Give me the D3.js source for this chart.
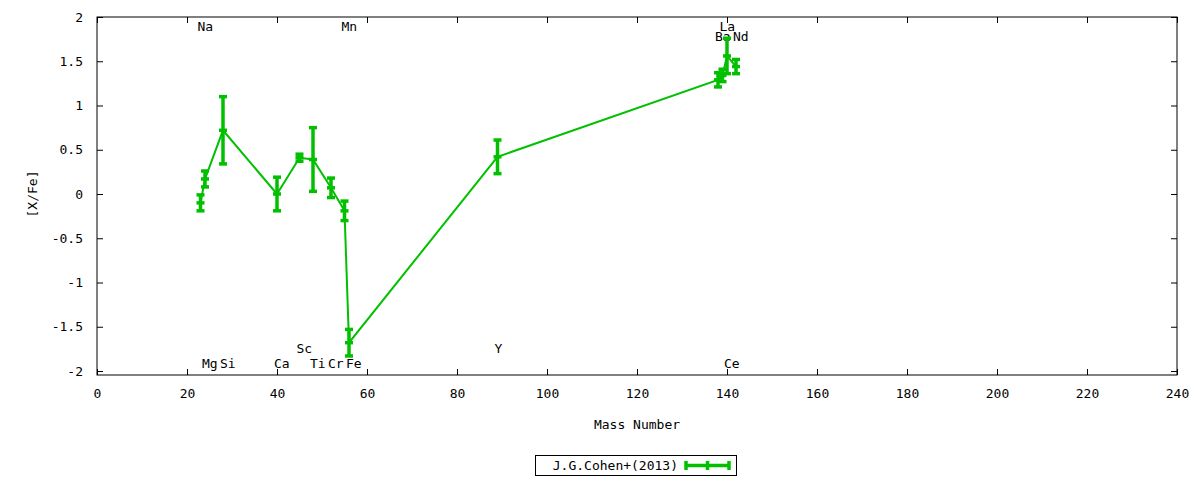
<!DOCTYPE html>
<html>
<head>
<meta charset="utf-8">
<script src="https://cdn.jsdelivr.net/npm/d3@7"></script>
<style>
  body { margin: 0; background: #fff; }
  text { font-family: "DejaVu Sans Mono", monospace; font-size: 13px; fill: #000; }
</style>
</head>
<body>
<div id="chart"></div>
<script>
// abundance data
const elements = ["Na", "Mg", "Si", "Ca", "Sc", "Ti", "Cr", "Mn", "Fe", "Y", "Ba", "La", "Ce", "Nd"]
const massNumbers = [23, 24, 28, 40, 45, 48, 52, 55, 56, 89, 138, 139, 140, 142]
const xFe = [-0.10, 0.17, 0.72, 0.0, 0.41, 0.39, 0.07, -0.19, -1.68, 0.42, 1.29, 1.34, 1.56, 1.44]
const xFeErr = [0.09, 0.09, 0.38, 0.19, 0.04, 0.36, 0.11, 0.11, 0.15, 0.19, 0.08, 0.07, 0.20, 0.08]
// where each element name is written
const labelY = [1.89, -1.91, -1.91, -1.91, -1.75, -1.91, -1.91, 1.89, -1.91, -1.75, 1.78, 1.89, -1.91, 1.78]

const xTicks = [0, 20, 40, 60, 80, 100, 120, 140, 160, 180, 200, 220, 240]
const yTicks = [-2, -1.5, -1, -0.5, 0, 0.5, 1, 1.5, 2]
const seriesName = "J.G.Cohen+(2013)"

const margin = {top: 17, right: 23, bottom: 105, left: 97},
    width = 1200 - margin.left - margin.right,
    height = 480 - margin.top - margin.bottom;

const color = "#00c000"

const svg = d3.select("#chart")
  .append("svg")
    .attr("width", 1200)
    .attr("height", 480)
  .append("g")
    .attr("transform", `translate(${margin.left}, ${margin.top})`);

const x = d3.scaleLinear().domain([0, 240]).range([0, width])
const y = d3.scaleLinear().domain([-2.045, 2]).range([height, 0])

const fmt = d => String(d)

// axes, ticks pointing inward, mirrored on top and right
svg.append("g")
   .attr("transform", `translate(0, ${height})`)
   .call(d3.axisBottom(x).tickValues(xTicks).tickSize(-6).tickPadding(14).tickFormat(fmt))
svg.append("g")
   .call(d3.axisTop(x).tickValues(xTicks).tickSize(-6).tickFormat(""))
svg.append("g")
   .call(d3.axisLeft(y).tickValues(yTicks).tickSize(-6).tickPadding(14).tickFormat(fmt))
svg.append("g")
   .attr("transform", `translate(${width}, 0)`)
   .call(d3.axisRight(y).tickValues(yTicks).tickSize(-6).tickFormat(""))

svg.selectAll(".domain").remove()
svg.selectAll(".tick line").attr("stroke", "#000")
svg.selectAll(".tick text").style("font-family", "DejaVu Sans Mono").style("font-size", "13px")

svg.append("rect")
   .attr("width", width)
   .attr("height", height)
   .attr("fill", "none")
   .attr("stroke", "#000")
   .attr("stroke-width", 1)

// axis titles
svg.append("text")
   .attr("x", x(120))
   .attr("y", 412)
   .attr("text-anchor", "middle")
   .text("Mass Number")
svg.append("text")
   .attr("transform", `translate(${-65}, ${y(0)}) rotate(-90)`)
   .attr("text-anchor", "middle")
   .attr("dy", "0.35em")
   .text("[X/Fe]")

// element names
svg.selectAll(".elabel")
   .data(elements)
   .enter()
   .append("text")
   .attr("class", "elabel")
   .attr("x", (d, i) => x(massNumbers[i]) - 3)
   .attr("y", (d, i) => y(labelY[i]))
   .attr("dy", "0.35em")
   .text(d => d)

const points = massNumbers.map((m, i) => ({mass: m, value: xFe[i], err: xFeErr[i]}))

// connecting line
svg.append("path")
   .datum(points)
   .attr("fill", "none")
   .attr("stroke", color)
   .attr("stroke-width", 2)
   .attr("d", d3.line().x(d => x(d.mass)).y(d => y(d.value)))

// error bars
const bars = svg.selectAll(".ebar")
  .data(points)
  .enter()
  .append("g")
  .attr("class", "ebar")
  .attr("stroke", color)
  .attr("stroke-width", 3.5)

bars.append("line")
  .attr("x1", d => x(d.mass)).attr("x2", d => x(d.mass))
  .attr("y1", d => y(d.value - d.err)).attr("y2", d => y(d.value + d.err))
bars.append("line")
  .attr("x1", d => x(d.mass) - 4).attr("x2", d => x(d.mass) + 4)
  .attr("y1", d => y(d.value - d.err)).attr("y2", d => y(d.value - d.err))
bars.append("line")
  .attr("x1", d => x(d.mass) - 4).attr("x2", d => x(d.mass) + 4)
  .attr("y1", d => y(d.value + d.err)).attr("y2", d => y(d.value + d.err))
bars.append("line")
  .attr("x1", d => x(d.mass) - 4).attr("x2", d => x(d.mass) + 4)
  .attr("y1", d => y(d.value)).attr("y2", d => y(d.value))

// legend
const legend = svg.append("g").attr("transform", `translate(${438}, ${438})`)
legend.append("rect")
  .attr("x", 0.5).attr("y", 0.5)
  .attr("width", 201).attr("height", 20)
  .attr("fill", "none")
  .attr("stroke", "#000")
legend.append("text")
  .attr("x", 143)
  .attr("y", 10)
  .attr("dy", "0.35em")
  .attr("text-anchor", "end")
  .text(seriesName)
const sample = legend.append("g").attr("stroke", color).attr("stroke-width", 3.5)
sample.append("line").attr("x1", 151).attr("x2", 194).attr("y1", 10.5).attr("y2", 10.5)
sample.append("line").attr("x1", 151).attr("x2", 151).attr("y1", 6).attr("y2", 15)
sample.append("line").attr("x1", 194).attr("x2", 194).attr("y1", 6).attr("y2", 15)
sample.append("line").attr("x1", 172.5).attr("x2", 172.5).attr("y1", 6).attr("y2", 15)
</script>
</body>
</html>
